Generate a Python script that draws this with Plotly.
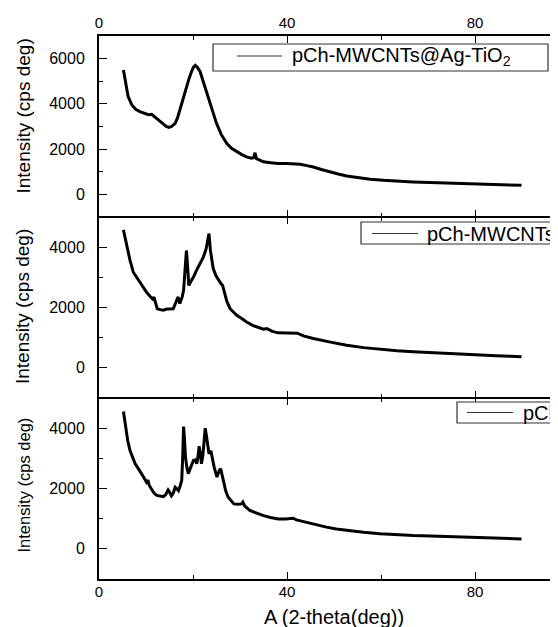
import plotly.graph_objects as go
from plotly.subplots import make_subplots

# ---------------- data ----------------
names = ["pCh-MWCNTs@Ag-TiO<sub>2</sub>", "pCh-MWCNTs", "pCh"]

x_top = [5.2, 5.7, 6.2, 7.0, 7.8, 8.7, 9.6, 10.5, 11.2, 11.8, 12.3, 13.0, 13.7, 14.3, 14.9, 15.5,
         16.2, 16.7, 17.2, 17.9, 18.7, 19.2, 19.7, 20.1, 20.5, 20.9, 21.5, 22.2, 22.9, 23.9, 25.0,
         26.0, 27.2, 28.2, 29.3, 30.3, 31.4, 32.4, 32.9, 33.2, 33.5, 34.2, 35.0, 36.5, 38.1, 40.0,
         41.5, 42.8, 44.2, 45.6, 47.3, 49.1, 50.9, 52.7, 55.0, 57.7, 60.5, 63.3, 66.8, 70.4, 74.0,
         77.5, 81.0, 84.6, 87.5, 89.9]
y_top = [5500, 4900, 4320, 3950, 3760, 3660, 3580, 3520, 3540, 3430, 3360, 3200, 3070, 3000, 2960, 3010,
         3140, 3380, 3730, 4250, 4770, 5150, 5430, 5620, 5700, 5620, 5430, 4950, 4470, 3800, 3140,
         2650, 2250, 2040, 1880, 1770, 1660, 1600, 1620, 1840, 1580, 1500, 1440, 1400, 1360, 1360,
         1350, 1330, 1270, 1210, 1100, 990, 900, 810, 740, 670, 620, 580, 550, 520, 495,
         475, 460, 445, 425, 400]

x_mid = [5.2, 5.5, 5.9, 6.6, 7.3, 8.0, 8.7, 9.4, 10.1, 10.8, 11.4, 11.7, 12.0, 12.4, 13.0, 13.7,
         14.4, 15.1, 15.8, 16.3, 16.8, 17.2, 17.7, 18.0, 18.3, 18.6, 18.8, 19.1, 19.6, 20.1, 20.8,
         21.5, 22.2, 22.8, 23.2, 23.4, 23.7, 24.0, 24.3, 24.9, 25.4, 25.9, 26.3, 26.7, 27.2, 27.9,
         28.6, 29.3, 30.3, 31.4, 32.8, 34.3, 35.0, 35.7, 36.9, 38.1, 39.7, 41.3, 42.2, 43.5, 45.6,
         49.0, 52.7, 56.3, 59.8, 63.4, 66.9, 70.5, 74.0, 77.5, 81.0, 84.5, 87.5, 89.9]
y_mid = [4575, 4350, 4110, 3560, 3170, 3000, 2840, 2680, 2510, 2380, 2280, 2340, 2150, 1960, 1930, 1910,
         1950, 1960, 1960, 2150, 2350, 2130, 2350, 2570, 3100, 3890, 3500, 2730, 2880, 3010, 3250,
         3450, 3670, 3950, 4250, 4450, 3900, 3500, 3290, 3050, 2900, 2800, 2730, 2500, 2200, 1960,
         1850, 1740, 1640, 1520, 1400, 1300, 1280, 1300, 1210, 1160, 1150, 1140, 1150, 1060, 970,
         860, 750, 670, 610, 565, 530, 500, 475, 445, 420, 400, 385, 365]

x_bot = [5.2, 5.5, 5.7, 6.1, 6.6, 7.2, 7.7, 8.4, 9.1, 9.6, 10.1, 10.4, 10.7, 11.2, 11.7, 12.3,
         13.0, 13.7, 14.2, 14.7, 15.0, 15.4, 15.8, 16.2, 16.6, 16.9, 17.3, 17.6, 17.8, 18.0, 18.2,
         18.4, 18.7, 19.0, 19.5, 20.1, 20.5, 20.8, 21.1, 21.3, 21.6, 21.8, 22.1, 22.4, 22.6, 22.9,
         23.4, 23.8, 24.1, 24.5, 25.1, 25.6, 25.9, 26.2, 26.5, 27.0, 27.5, 28.1, 28.7, 29.5, 30.3,
         30.6, 31.0, 32.1, 33.5, 35.0, 36.5, 38.1, 39.7, 41.3, 42.0, 43.5, 45.6, 48.4, 50.5, 52.7,
         56.3, 59.8, 63.4, 66.9, 70.5, 74.0, 77.5, 81.0, 84.5, 87.5, 89.9]
y_bot = [4554, 4250, 4030, 3600, 3260, 3000, 2820, 2650, 2490, 2350, 2210, 2280, 2100, 1990, 1850, 1770,
         1740, 1730, 1800, 1950, 1880, 1760, 1850, 2040, 1980, 1930, 2100, 2270, 3000, 4050, 3600,
         3040, 2700, 2490, 2700, 2930, 2950, 2820, 3100, 3400, 3100, 2820, 3100, 3700, 4000, 3700,
         3150, 3250, 3000, 2710, 2380, 2600, 2650, 2450, 2160, 1900, 1710, 1580, 1490, 1480, 1490,
         1550, 1420, 1270, 1180, 1100, 1040, 990, 990, 1015, 960, 900, 830, 720, 660, 610,
         550, 500, 465, 440, 425, 410, 395, 385, 370, 350, 330]

x_ticks = [0, 40, 80]
y_ticks_top = [0, 2000, 4000, 6000]
y_ticks_low = [0, 2000, 4000]
x_title = "A (2-theta(deg))"
y_title = "Intensity (cps deg)"

# ---------------- figure ----------------
FONT = "Liberation Sans, Arial, sans-serif"
OFF = 8                       # page body margin
W, H = 558 - OFF, 627 - OFF
PL, PT, PB = 99, 36, 579      # plot area in window pixels
L, T = PL - OFF, PT - OFF
B = H - (PB - OFF)
PW = W - L
PH = H - T - B

fig = make_subplots(rows=3, cols=1, shared_xaxes=False, vertical_spacing=0)

series = [(x_top, y_top), (x_mid, y_mid), (x_bot, y_bot)]
for i, (xs, ys) in enumerate(series):
    fig.add_trace(go.Scatter(x=xs, y=ys, mode="lines", name=names[i],
                             line=dict(color="black", width=3), showlegend=False),
                  row=i + 1, col=1)

xmax = PW / 4.7
common_x = dict(range=[0, xmax], showline=True, linecolor="black", linewidth=1,
                mirror="allticks", ticks="inside", ticklen=7, tickwidth=1.3, tickcolor="black",
                tickvals=x_ticks, showgrid=False, zeroline=False,
                minor=dict(dtick=20, tick0=0, ticks="inside", ticklen=4, tickwidth=1.3,
                           tickcolor="black", showgrid=False),
                tickfont=dict(family=FONT, size=15, color="black"))

fig.update_xaxes(**common_x)
fig.update_xaxes(side="top", showticklabels=True, ticklabelstandoff=1, row=1, col=1)
fig.update_xaxes(showticklabels=False, row=2, col=1)
fig.update_xaxes(showticklabels=True, ticklabelstandoff=-1, row=3, col=1)

common_y = dict(showline=True, linecolor="black", linewidth=2, mirror=False,
                ticks="inside", ticklen=8, tickwidth=1.3, tickcolor="black",
                showgrid=False, zeroline=False, ticklabelstandoff=9,
                minor=dict(dtick=1000, tick0=0, ticks="inside", ticklen=4, tickwidth=1.3,
                           tickcolor="black", showgrid=False),
                tickfont=dict(family=FONT, size=16, color="black"))
fig.update_yaxes(**common_y)
fig.update_yaxes(range=[-1000, 7000], tickvals=y_ticks_top, row=1, col=1)
fig.update_yaxes(range=[-1000, 5000], tickvals=y_ticks_low, row=2, col=1)
fig.update_yaxes(range=[-1000, 5000], tickvals=y_ticks_low, row=3, col=1)

def px(xp):
    return (xp - PL) / PW

def py(yp):
    return (PB - yp) / PH

shapes = []
annotations = []

# thicker outer top / bottom frame lines
for yp in (PT - 1, PB + 1):
    shapes.append(dict(type="line", xref="paper", yref="paper", x0=px(PL - 2), x1=1.2,
                       y0=py(yp), y1=py(yp), line=dict(color="black", width=2)))

# legend boxes (clipped at the right edge, as in the reference)
legends = [
    dict(box=(213, 44, 548, 71), line=(237, 282, 56), tx=290, size=20),
    dict(box=(361, 222, 700, 244), line=(372, 418, 233.5), tx=425, size=20),
    dict(box=(457, 402, 700, 423), line=(467, 513, 412.5), tx=521, size=20),
]
for i, lg in enumerate(legends):
    x0, y0, x1, y1 = lg["box"]
    shapes.append(dict(type="rect", xref="paper", yref="paper",
                       x0=px(x0), x1=px(x1), y0=py(y1), y1=py(y0),
                       line=dict(color="#333333", width=1.2), fillcolor="white"))
    lx0, lx1, ly = lg["line"]
    shapes.append(dict(type="line", xref="paper", yref="paper",
                       x0=px(lx0), x1=px(lx1), y0=py(ly), y1=py(ly),
                       line=dict(color="#333333", width=1.2)))
    annotations.append(dict(xref="paper", yref="paper", x=px(lg["tx"]), y=py(ly),
                            xanchor="left", yanchor="middle", showarrow=False,
                            text=names[i], font=dict(family=FONT, size=lg["size"], color="black")))

# axis titles
for yc, sz in [(116.5, 19), (307, 19), (485.5, 16.5)]:
    annotations.append(dict(xref="paper", yref="paper", x=px(23), y=py(yc),
                            xanchor="center", yanchor="middle", textangle=-90, showarrow=False,
                            text=y_title, font=dict(family=FONT, size=sz, color="black")))
annotations.append(dict(xref="paper", yref="paper", x=px(334), y=py(617),
                        xanchor="center", yanchor="middle", showarrow=False,
                        text=x_title, font=dict(family=FONT, size=20, color="black")))

fig.update_layout(width=W, height=H, margin=dict(l=L, r=0, t=T, b=B, pad=0),
                  paper_bgcolor="white", plot_bgcolor="white",
                  shapes=shapes, annotations=annotations, showlegend=False)

fig.write_html("out.html")
